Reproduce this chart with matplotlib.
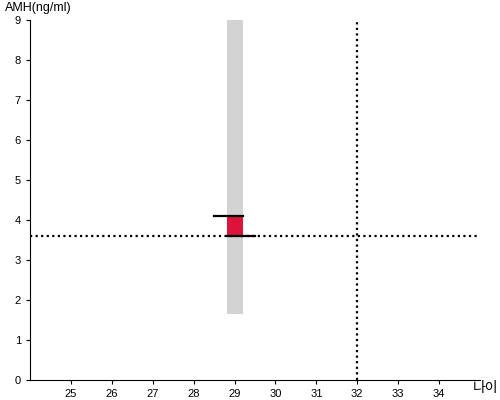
import matplotlib
matplotlib.use("Agg")
import matplotlib.pyplot as plt

x_ticks = [25, 26, 27, 28, 29, 30, 31, 32, 33, 34]
y_ticks = [0, 1, 2, 3, 4, 5, 6, 7, 8, 9]
age = 29
range_low, range_high = 1.65, 9.0
box_low, box_high = 3.6, 4.1
ref_amh = 3.6
ref_age = 32

plt.rcParams['font.family'] = ['Liberation Sans', 'Noto Sans CJK KR', 'DejaVu Sans']
fig = plt.figure(figsize=(5, 4), dpi=100)
ax = fig.add_axes([0.06, 0.05, 0.90, 0.90])
ax.set_xlim(24, 35)
ax.set_ylim(0, 9)

w = 0.39
ax.bar([age], [range_high - range_low], bottom=[range_low], width=w, color='#d3d3d3', zorder=1)
ax.bar([age], [box_high - box_low], bottom=[box_low], width=w, color='#dc143c', zorder=2)
ax.plot([age - w / 2 - 0.3, age + w / 2], [box_high, box_high], color='black', lw=1.6, zorder=3)
ax.plot([age - w / 2, age + w / 2 + 0.3], [box_low, box_low], color='black', lw=1.6, zorder=3)

ax.axhline(ref_amh, color='black', lw=1.6, ls=(0, (1, 1.5)), zorder=2.5)
ax.axvline(ref_age, color='black', lw=1.6, ls=(0, (1, 1.5)), zorder=2.5)

ax.set_xticks(x_ticks)
ax.set_yticks(y_ticks)
ax.tick_params(labelsize=8, length=3, width=0.8)
for s in ['top', 'right']:
    ax.spines[s].set_visible(False)

fig.text(0.01, 0.995, 'AMH(ng/ml)', fontsize=9, va='top', ha='left')
fig.text(0.945, 0.012, '나이', fontsize=10, va='bottom', ha='left', family=['Noto Sans CJK KR', 'DejaVu Sans'])

fig.savefig('out.png', dpi=100)
